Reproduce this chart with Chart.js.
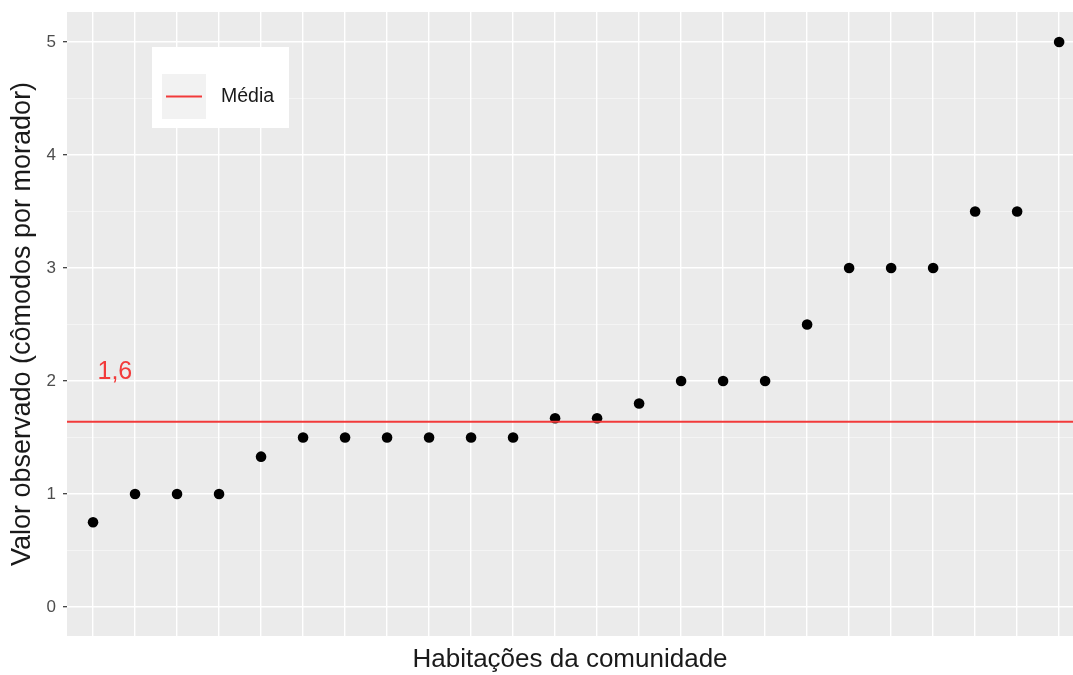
<!DOCTYPE html>
<html>
<head>
<meta charset="utf-8">
<script src="https://cdn.jsdelivr.net/npm/chart.js@4.4.1/dist/chart.umd.min.js"></script>
<style>
  html, body { margin: 0; padding: 0; background: #ffffff; overflow: hidden; }
  canvas { display: block; }
</style>
</head>
<body>
<canvas id="c" width="1073" height="675"></canvas>
<script>
// ---- data ----
const CATEGORIES = ['H01','H02','H03','H04','H05','H06','H07','H08','H09','H10','H11','H12',
                    'H13','H14','H15','H16','H17','H18','H19','H20','H21','H22','H23','H24'];
const VALUES = [0.75, 1, 1, 1, 1.33, 1.5, 1.5, 1.5, 1.5, 1.5, 1.5, 1.67,
                1.67, 1.8, 2, 2, 2, 2.5, 3, 3, 3, 3.5, 3.5, 5];
const MEAN_VALUE = 1.64;
const MEAN_LABEL = '1,6';
const LEGEND_LABEL = 'Média';
const Y_TICKS = [0, 1, 2, 3, 4, 5];
const Y_MINOR = [0.5, 1.5, 2.5, 3.5, 4.5];
const X_TITLE = 'Habitações da comunidade';
const Y_TITLE = 'Valor observado (cômodos por morador)';

const FONT = "'Liberation Sans', Arial, sans-serif";
const RED = '#f23a3a';

const bgPlugin = {
  id: 'panelBg',
  beforeDraw(chart) {
    const {ctx, chartArea: a} = chart;
    ctx.save();
    ctx.fillStyle = '#EBEBEB';
    ctx.fillRect(a.left, a.top, a.right - a.left, a.bottom - a.top);
    ctx.restore();
  }
};

const meanPlugin = {
  id: 'meanLine',
  afterDatasetsDraw(chart) {
    const {ctx, chartArea: a, scales} = chart;
    const y = scales.y.getPixelForValue(MEAN_VALUE);
    ctx.save();
    ctx.strokeStyle = RED;
    ctx.lineWidth = 2;
    ctx.beginPath();
    ctx.moveTo(a.left, y);
    ctx.lineTo(a.right, y);
    ctx.stroke();
    // label
    ctx.fillStyle = RED;
    ctx.font = '25px ' + FONT;
    ctx.textAlign = 'center';
    ctx.textBaseline = 'middle';
    ctx.fillText(MEAN_LABEL, scales.x.getPixelForValue(0.52), scales.y.getPixelForValue(2.08));
    // legend box
    ctx.fillStyle = '#ffffff';
    ctx.fillRect(152, 47, 137, 81);
    ctx.fillStyle = '#F2F2F2';
    ctx.fillRect(162, 74, 44, 45);
    ctx.strokeStyle = RED;
    ctx.lineWidth = 2;
    ctx.beginPath();
    ctx.moveTo(166, 96.5);
    ctx.lineTo(202, 96.5);
    ctx.stroke();
    ctx.fillStyle = '#1a1a1a';
    ctx.font = '19.5px ' + FONT;
    ctx.textAlign = 'left';
    ctx.fillText(LEGEND_LABEL, 221, 97);
    ctx.restore();
  }
};

new Chart(document.getElementById('c'), {
  type: 'scatter',
  data: {
    labels: CATEGORIES,
    datasets: [{
      label: 'Valor observado',
      data: VALUES.map((v, i) => ({x: i, y: v})),
      backgroundColor: '#000000',
      borderColor: '#000000',
      pointRadius: 5.3,
      pointHoverRadius: 5.3,
      borderWidth: 0
    }]
  },
  options: {
    responsive: false,
    devicePixelRatio: 1,
    animation: false,
    layout: { autoPadding: false, padding: { top: 12, right: 0, left: 0, bottom: 0 } },
    plugins: { legend: { display: false }, tooltip: { enabled: false } },
    scales: {
      x: {
        type: 'linear',
        min: -0.62,
        max: 23.33,
        afterBuildTicks(scale) { scale.ticks = CATEGORIES.map((_, i) => ({value: i})); },
        afterFit(scale) { scale.height = 39; scale.paddingLeft = 0; scale.paddingRight = 0; },
        ticks: { display: false },
        border: { display: false },
        grid: { color: '#ffffff', lineWidth: 1.4, drawTicks: false },
        title: {
          display: true, text: X_TITLE, color: '#1a1a1a',
          font: { family: FONT, size: 26, lineHeight: 1 },
          padding: { top: 0, bottom: 2 }
        }
      },
      y: {
        min: -0.257,
        max: 5.265,
        afterBuildTicks(scale) {
          scale.ticks = [...Y_TICKS, ...Y_MINOR].sort((a, b) => a - b).map(v => ({value: v}));
        },
        afterFit(scale) { scale.width = 67; scale.paddingTop = 0; scale.paddingBottom = 0; },
        ticks: {
          color: '#4D4D4D',
          font: { family: FONT, size: 17 },
          padding: 7,
          callback: (v) => Y_TICKS.includes(v) ? String(v) : ''
        },
        border: { display: false },
        grid: {
          color: (c) => Y_TICKS.includes(c.tick.value) ? '#ffffff' : 'rgba(255,255,255,0.6)',
          lineWidth: (c) => Y_TICKS.includes(c.tick.value) ? 1.4 : 0.8,
          tickColor: (c) => Y_TICKS.includes(c.tick.value) ? '#333333' : 'rgba(0,0,0,0)',
          tickLength: 4,
          tickWidth: 1.2
        },
        title: {
          display: true, text: Y_TITLE, color: '#1a1a1a',
          font: { family: FONT, size: 27, lineHeight: 1 },
          padding: { top: 9, bottom: 0 }
        }
      }
    }
  },
  plugins: [bgPlugin, meanPlugin]
});
</script>
</body>
</html>
